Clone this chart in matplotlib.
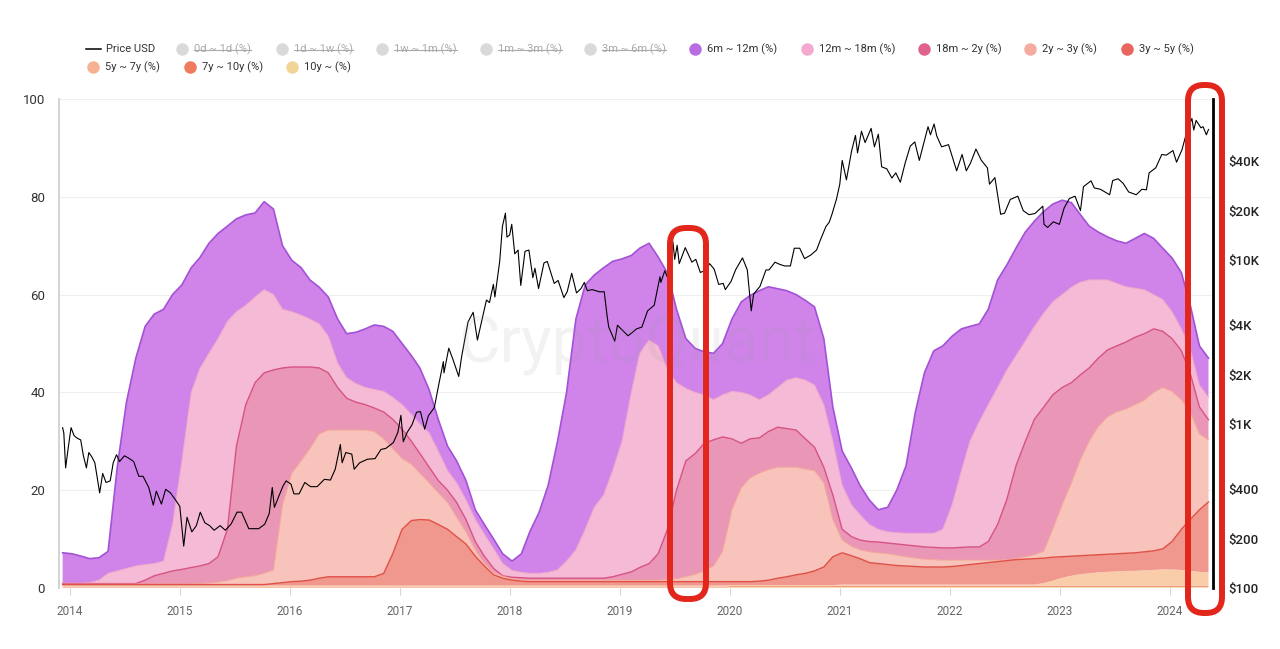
import numpy as np
import pandas as pd
import matplotlib
matplotlib.use("Agg")
import matplotlib.pyplot as plt
import matplotlib.dates as mdates
from matplotlib.lines import Line2D
from matplotlib.patches import FancyBboxPatch
from matplotlib.transforms import IdentityTransform

plt.rcParams['font.family'] = ['Roboto', 'DejaVu Sans']

# ---- age band data: cumulative top of each band (%), one value per month, Dec 2013 .. May 2024
months = pd.date_range('2013-12-01', periods=126, freq='MS') + pd.Timedelta(days=7)

top_6m_12m = [7.2,
    7.0, 6.5, 6.0, 6.2, 7.5, 25, 38, 47, 53.5, 56, 57, 60,
    62, 65.5, 67.5, 70.5, 72.5, 74, 75.5, 76.3, 76.7, 79, 77.5, 70,
    67, 65.5, 63, 61.5, 59.5, 55, 52, 52.3, 53, 53.8, 53.5, 52.5,
    50, 47.5, 45, 40.5, 34.5, 29, 26, 22, 16, 13, 10, 7,
    5.5, 7, 11.5, 15.5, 21, 30, 40, 55, 62, 64, 65.5, 66.8,
    67.3, 68, 69.5, 70.5, 67.7, 64.4, 57, 51, 49, 48.3, 48, 50,
    55, 58.5, 59.8, 60.8, 61.6, 61.2, 60.8, 60, 58.8, 57.5, 51, 37,
    28, 24.5, 21, 18, 16, 16.5, 20, 25, 36, 44, 48.5, 49.5,
    51.5, 53, 53.5, 54, 57, 63, 66, 69.5, 72.8, 75, 77, 78.5,
    79.3, 78.8, 76.5, 74, 72.8, 71.8, 71, 70.5, 71.5, 72.5, 71.5, 69.5,
    67.5, 64.5, 58, 49.5, 47]

top_12m_18m = [1.0,
    1.0, 1.0, 1.1, 1.6, 3.0, 3.5, 4.0, 4.5, 4.8, 5.0, 5.5, 13,
    26, 40, 44.8, 48, 51, 54.5, 56.5, 57.8, 59.5, 61, 60, 57,
    56.5, 55.8, 55, 54, 51.5, 46, 43, 41.8, 41, 40.6, 40.2, 39,
    37.5, 35.5, 33.5, 31.7, 28, 24, 21.5, 18, 14, 11, 8, 5,
    3.6, 3.2, 3.0, 3.0, 3.2, 3.7, 5.5, 7.8, 12, 16.5, 19, 24,
    30, 40, 48, 50.7, 49.5, 44.6, 42, 40.8, 40, 39.5, 38.5, 39.5,
    40.2, 40, 39.5, 38.5, 39.5, 41, 42.5, 43, 42.5, 41.5, 37.5, 30,
    21, 17, 15, 13, 12, 11.5, 11.3, 11.2, 11.2, 11.2, 11.2, 12,
    17, 24, 30, 34, 37.5, 41, 44.5, 47.5, 50.5, 53.5, 56.2, 58.5,
    60, 61.5, 62.5, 63, 63, 63, 62.3, 61.6, 61.3, 61, 60, 59,
    56.5, 53, 49, 41.5, 39]

top_18m_2y = [0.9,
    0.9, 0.9, 0.9, 0.9, 0.9, 0.9, 0.9, 0.9, 1.6, 2.5, 3.0, 3.5,
    3.8, 4.2, 4.5, 5.0, 6.4, 12, 29, 37.5, 42, 44, 44.6, 45,
    45.2, 45.2, 45.2, 45, 44, 41, 38.8, 38, 37.5, 36.8, 36, 34.5,
    32.5, 30, 27.5, 24.7, 22, 20, 17.5, 14, 9.5, 6.5, 4, 2.5,
    2.2, 2.1, 2.0, 2.0, 2.0, 2.0, 2.0, 2.0, 2.0, 2.0, 2.0, 2.3,
    2.8, 3.3, 4.2, 5.0, 7.0, 12, 20, 26, 27.5, 29.6, 30.3, 30.9,
    30.5, 29.6, 30.5, 30.7, 32, 32.9, 32.6, 32.3, 30.5, 28.8, 24.7, 19,
    12, 10.5, 9.8, 9.5, 9.4, 9.2, 9.0, 8.8, 8.6, 8.4, 8.3, 8.2,
    8.2, 8.3, 8.4, 8.4, 9.5, 13, 18, 25, 30, 34.5, 37, 39.5,
    41, 42, 43.5, 45, 47, 48.7, 49.5, 50.3, 51.3, 52, 53, 52.5,
    51, 48.5, 44, 37, 34.4]

top_2y_3y = [0.8,
    0.8, 0.8, 0.8, 0.8, 0.8, 0.8, 0.8, 0.8, 0.8, 0.8, 0.8, 0.8,
    0.8, 0.8, 0.9, 1.0, 1.2, 1.5, 2.0, 2.3, 2.5, 3.0, 3.7, 17,
    23.5, 26, 28.5, 31.5, 32.3, 32.3, 32.3, 32.3, 32.3, 32, 30.5, 28.5,
    26.5, 25.3, 23.5, 21.5, 19.5, 17.5, 14.5, 11.5, 7.8, 5, 3.2, 2.4,
    1.9, 1.7, 1.6, 1.6, 1.6, 1.6, 1.6, 1.6, 1.6, 1.6, 1.6, 1.6,
    1.6, 1.6, 1.6, 1.6, 1.6, 1.7, 1.9, 2.3, 2.8, 3.5, 4.5, 7.5,
    16, 20.5, 22.5, 23.5, 24.2, 24.7, 24.7, 24.7, 24.3, 24, 21.5, 14,
    9.8, 8.5, 7.8, 7.4, 7.2, 7.0, 6.7, 6.4, 6.1, 5.9, 5.8, 5.7,
    5.7, 5.7, 5.7, 5.7, 5.7, 5.7, 5.8, 6.0, 6.4, 6.8, 7.5, 12,
    17, 21.5, 26, 30, 33, 35, 36, 36.6, 37.5, 38.4, 40, 41,
    40.2, 38.5, 36, 31.5, 30.3]

top_3y_5y = [0.7,
    0.7, 0.7, 0.7, 0.7, 0.7, 0.7, 0.7, 0.7, 0.7, 0.7, 0.7, 0.7,
    0.7, 0.7, 0.7, 0.7, 0.7, 0.7, 0.7, 0.7, 0.7, 0.7, 0.9, 1.1,
    1.3, 1.4, 1.6, 2.0, 2.3, 2.3, 2.3, 2.3, 2.3, 2.3, 3.0, 7.0,
    12, 13.8, 14, 13.9, 13, 12, 10.5, 9, 6.5, 4.5, 2.7, 2.0,
    1.6, 1.4, 1.3, 1.3, 1.3, 1.3, 1.3, 1.3, 1.3, 1.3, 1.3, 1.3,
    1.3, 1.3, 1.3, 1.3, 1.3, 1.3, 1.3, 1.3, 1.3, 1.3, 1.3, 1.3,
    1.3, 1.3, 1.3, 1.4, 1.6, 2.0, 2.3, 2.7, 3.0, 3.5, 4.3, 6.4,
    7.2, 6.6, 6.0, 5.2, 5.0, 4.8, 4.6, 4.5, 4.4, 4.3, 4.3, 4.3,
    4.4, 4.6, 4.8, 5.0, 5.2, 5.4, 5.6, 5.8, 5.9, 6.0, 6.1, 6.3,
    6.4, 6.5, 6.6, 6.7, 6.8, 6.9, 7.0, 7.1, 7.2, 7.4, 7.6, 8.0,
    9.5, 12, 14, 16, 17.6]

# thin bottom bands (band thickness, %)
band_5y_7y = [0.2,
    0.2, 0.2, 0.2, 0.2, 0.2, 0.2, 0.2, 0.2, 0.2, 0.2, 0.2, 0.2,
    0.2, 0.2, 0.2, 0.2, 0.2, 0.2, 0.2, 0.2, 0.2, 0.2, 0.2, 0.2,
    0.2, 0.2, 0.2, 0.2, 0.2, 0.2, 0.2, 0.2, 0.2, 0.2, 0.2, 0.2,
    0.2, 0.2, 0.2, 0.2, 0.2, 0.2, 0.2, 0.2, 0.2, 0.2, 0.2, 0.2,
    0.2, 0.2, 0.2, 0.2, 0.2, 0.2, 0.2, 0.2, 0.2, 0.2, 0.2, 0.2,
    0.2, 0.2, 0.2, 0.2, 0.2, 0.2, 0.2, 0.2, 0.2, 0.2, 0.2, 0.2,
    0.2, 0.2, 0.2, 0.2, 0.2, 0.2, 0.2, 0.2, 0.2, 0.2, 0.2, 0.2,
    0.2, 0.2, 0.2, 0.2, 0.2, 0.2, 0.2, 0.2, 0.2, 0.2, 0.2, 0.2,
    0.2, 0.2, 0.2, 0.2, 0.2, 0.2, 0.2, 0.2, 0.2, 0.2, 0.5, 1.0,
    1.6, 2.0, 2.3, 2.5, 2.7, 2.8, 2.9, 3.0, 3.0, 3.1, 3.2, 3.3,
    3.3, 3.2, 3.0, 2.8, 2.7]
band_7y_10y = [0.2,
    0.2, 0.2, 0.2, 0.2, 0.2, 0.2, 0.2, 0.2, 0.2, 0.2, 0.2, 0.2,
    0.2, 0.2, 0.2, 0.2, 0.2, 0.2, 0.2, 0.2, 0.2, 0.2, 0.2, 0.2,
    0.2, 0.2, 0.2, 0.2, 0.2, 0.2, 0.2, 0.2, 0.2, 0.2, 0.2, 0.2,
    0.2, 0.2, 0.2, 0.2, 0.2, 0.2, 0.2, 0.2, 0.2, 0.2, 0.2, 0.2,
    0.2, 0.2, 0.2, 0.2, 0.2, 0.2, 0.2, 0.2, 0.2, 0.2, 0.2, 0.2,
    0.2, 0.2, 0.2, 0.2, 0.2, 0.2, 0.2, 0.2, 0.2, 0.2, 0.2, 0.2,
    0.2, 0.2, 0.2, 0.2, 0.2, 0.2, 0.2, 0.2, 0.2, 0.2, 0.2, 0.2,
    0.3, 0.3, 0.3, 0.3, 0.3, 0.3, 0.3, 0.3, 0.3, 0.3, 0.3, 0.3,
    0.3, 0.3, 0.3, 0.3, 0.3, 0.3, 0.3, 0.3, 0.3, 0.3, 0.3, 0.3,
    0.3, 0.3, 0.3, 0.3, 0.3, 0.3, 0.3, 0.3, 0.3, 0.3, 0.3, 0.3,
    0.3, 0.3, 0.3, 0.3, 0.3]
band_10y = [0.1,
    0.1, 0.1, 0.1, 0.1, 0.1, 0.1, 0.1, 0.1, 0.1, 0.1, 0.1, 0.1,
    0.1, 0.1, 0.1, 0.1, 0.1, 0.1, 0.1, 0.1, 0.1, 0.1, 0.1, 0.1,
    0.1, 0.1, 0.1, 0.1, 0.1, 0.1, 0.1, 0.1, 0.1, 0.1, 0.1, 0.1,
    0.1, 0.1, 0.1, 0.1, 0.1, 0.1, 0.1, 0.1, 0.1, 0.1, 0.1, 0.1,
    0.1, 0.1, 0.1, 0.1, 0.1, 0.1, 0.1, 0.1, 0.1, 0.1, 0.1, 0.1,
    0.1, 0.1, 0.1, 0.1, 0.1, 0.1, 0.1, 0.1, 0.1, 0.1, 0.1, 0.1,
    0.2, 0.2, 0.2, 0.2, 0.2, 0.2, 0.2, 0.2, 0.2, 0.2, 0.2, 0.2,
    0.2, 0.2, 0.2, 0.2, 0.2, 0.2, 0.2, 0.2, 0.2, 0.2, 0.2, 0.2,
    0.2, 0.2, 0.2, 0.2, 0.2, 0.2, 0.2, 0.2, 0.2, 0.2, 0.2, 0.2,
    0.2, 0.2, 0.2, 0.2, 0.2, 0.2, 0.2, 0.2, 0.2, 0.2, 0.2, 0.2,
    0.2, 0.2, 0.2, 0.2, 0.2]

# ---- BTC price (USD)
price_dates = [
    '2013-12-08', '2013-12-12', '2013-12-18', '2013-12-25', '2014-01-05', '2014-01-15', '2014-01-25',
    '2014-02-06', '2014-02-15', '2014-02-25', '2014-03-05', '2014-03-15', '2014-03-25', '2014-04-02',
    '2014-04-10', '2014-04-20', '2014-05-01', '2014-05-15', '2014-05-25', '2014-06-05', '2014-06-15',
    '2014-07-01', '2014-07-15', '2014-08-01', '2014-08-18', '2014-09-01', '2014-09-20', '2014-10-05',
    '2014-10-15', '2014-11-01', '2014-11-15', '2014-12-01', '2014-12-15',
    '2015-01-01', '2015-01-14', '2015-01-25', '2015-02-10', '2015-02-25', '2015-03-10', '2015-03-25',
    '2015-04-10', '2015-04-25', '2015-05-15', '2015-06-01', '2015-06-20', '2015-07-10', '2015-07-25',
    '2015-08-18', '2015-09-01', '2015-09-20', '2015-10-10', '2015-10-25', '2015-11-04', '2015-11-11',
    '2015-11-25', '2015-12-10', '2015-12-20',
    '2016-01-05', '2016-01-15', '2016-02-01', '2016-02-20', '2016-03-10', '2016-04-01', '2016-04-25',
    '2016-05-15', '2016-05-31', '2016-06-17', '2016-06-23', '2016-07-05', '2016-07-25', '2016-08-02',
    '2016-08-20', '2016-09-15', '2016-10-10', '2016-10-30', '2016-11-15', '2016-12-10', '2016-12-25',
    '2017-01-04', '2017-01-12', '2017-01-25', '2017-02-10', '2017-02-25', '2017-03-10', '2017-03-24',
    '2017-04-05', '2017-04-25', '2017-05-10', '2017-05-25', '2017-05-27', '2017-06-12', '2017-06-25',
    '2017-07-15', '2017-07-25', '2017-08-15', '2017-09-01', '2017-09-15', '2017-09-30', '2017-10-15',
    '2017-10-25', '2017-11-07', '2017-11-12', '2017-11-28', '2017-12-07', '2017-12-17', '2017-12-22',
    '2017-12-31',
    '2018-01-07', '2018-01-17', '2018-01-28', '2018-02-06', '2018-02-20', '2018-03-05', '2018-03-18',
    '2018-03-25', '2018-04-06', '2018-04-24', '2018-05-05', '2018-05-28', '2018-06-10', '2018-06-29',
    '2018-07-10', '2018-07-25', '2018-08-10', '2018-08-25', '2018-09-05', '2018-09-15', '2018-10-01',
    '2018-10-25', '2018-11-10', '2018-11-20', '2018-11-25', '2018-12-15', '2018-12-24',
    '2019-01-05', '2019-01-28', '2019-02-10', '2019-02-25', '2019-03-15', '2019-04-03', '2019-04-25',
    '2019-05-14', '2019-05-17', '2019-05-30', '2019-06-10', '2019-06-26', '2019-07-02', '2019-07-10',
    '2019-07-17', '2019-08-06', '2019-08-28', '2019-09-10', '2019-09-25', '2019-10-10', '2019-10-26',
    '2019-11-10', '2019-11-25', '2019-12-10', '2019-12-17',
    '2020-01-05', '2020-01-20', '2020-02-12', '2020-02-28', '2020-03-12', '2020-03-20', '2020-04-10',
    '2020-04-30', '2020-05-10', '2020-05-30', '2020-06-15', '2020-07-01', '2020-07-20', '2020-08-02',
    '2020-08-20', '2020-09-05', '2020-09-25', '2020-10-15', '2020-10-28', '2020-11-15', '2020-11-26',
    '2020-12-05', '2020-12-20', '2020-12-31',
    '2021-01-08', '2021-01-22', '2021-02-08', '2021-02-21', '2021-02-28', '2021-03-13', '2021-03-25',
    '2021-04-14', '2021-04-25', '2021-05-08', '2021-05-19', '2021-06-05', '2021-06-22', '2021-07-05',
    '2021-07-20', '2021-08-05', '2021-08-22', '2021-09-06', '2021-09-21', '2021-10-05', '2021-10-20',
    '2021-10-28', '2021-11-09', '2021-11-18', '2021-12-04', '2021-12-27',
    '2022-01-10', '2022-01-23', '2022-02-10', '2022-02-24', '2022-03-10', '2022-03-28', '2022-04-15',
    '2022-05-05', '2022-05-12', '2022-05-30', '2022-06-18', '2022-07-01', '2022-07-20', '2022-08-14',
    '2022-09-01', '2022-09-20', '2022-10-10', '2022-11-05', '2022-11-09', '2022-11-21', '2022-12-10',
    '2022-12-30',
    '2023-01-15', '2023-02-01', '2023-02-20', '2023-03-10', '2023-03-20', '2023-04-14', '2023-04-25',
    '2023-05-15', '2023-06-15', '2023-06-25', '2023-07-13', '2023-07-30', '2023-08-17', '2023-09-11',
    '2023-09-30', '2023-10-15', '2023-10-24', '2023-11-15', '2023-12-05', '2023-12-20',
    '2024-01-11', '2024-01-23', '2024-02-10', '2024-02-28', '2024-03-14', '2024-03-20', '2024-03-28',
    '2024-04-13', '2024-04-20', '2024-05-01', '2024-05-08']
price_usd = [
    950, 880, 540, 680, 950, 850, 820,
    800, 640, 540, 670, 630, 580, 470,
    380, 500, 440, 450, 580, 650, 590,
    640, 620, 590, 480, 480, 410, 320,
    390, 325, 400, 380, 350,
    315, 180, 270, 220, 240, 290, 250,
    240, 225, 240, 225, 245, 290, 290,
    230, 230, 230, 245, 285, 410, 310,
    360, 420, 450,
    430, 375, 375, 440, 415, 415, 460,
    455, 530, 750, 580, 670, 655, 530,
    580, 610, 615, 700, 710, 770, 890,
    1130, 780, 890, 990, 1180, 1190, 930,
    1120, 1260, 1750, 2400, 2050, 2900, 2500,
    1950, 2600, 4200, 4800, 3250, 4300, 5700,
    5500, 7100, 5950, 9800, 16000, 19300, 13800,
    14200,
    16500, 10900, 11500, 7000, 11300, 11500, 7800,
    8900, 6700, 9600, 9800, 7200, 7500, 5900,
    6400, 8300, 6300, 6700, 7300, 6500, 6600,
    6400, 6400, 4500, 3900, 3200, 4000,
    3800, 3450, 3600, 3800, 3900, 4900, 5300,
    7900, 7300, 8600, 7700, 12900, 10100, 12300,
    9500, 11900, 9700, 10100, 8400, 8600, 9500,
    8800, 7100, 7200, 6600,
    7400, 8700, 10300, 8700, 4900, 6200, 6900,
    8700, 8700, 9700, 9400, 9200, 9200, 11800,
    11800, 10200, 10700, 11500, 13300, 16000, 17000,
    19000, 23500, 29000,
    40500, 30800, 46000, 57500, 45000, 61000, 52000,
    63500, 49000, 58500, 37000, 36000, 31600, 34000,
    29800, 39000, 49500, 52500, 40500, 51000, 65000,
    58000, 67500, 57000, 49000, 50500,
    41800, 35000, 44000, 35000, 39000, 47500, 40500,
    36500, 29000, 31800, 19000, 19300, 23400, 24500,
    20000, 18900, 19200, 21300, 16500, 15800, 17100,
    16500,
    20800, 23700, 24500, 20000, 28000, 30400, 27500,
    27000, 25000, 30500, 31300, 29300, 26000, 25000,
    27000, 26800, 34000, 36500, 44000, 43600,
    46500, 39500, 47000, 62500, 73000, 62000, 71000,
    64000, 65000, 58000, 62500]

price_ticks = [100, 200, 400, 1000, 2000, 4000, 10000, 20000, 40000]
price_tick_labels = ['$100', '$200', '$400', '$1K', '$2K', '$4K', '$10K', '$20K', '$40K']

legend_items = [
    # label, colour, hidden (struck through)
    ('0d ~ 1d (%)', '#d9d9d9', True),
    ('1d ~ 1w (%)', '#d9d9d9', True),
    ('1w ~ 1m (%)', '#d9d9d9', True),
    ('1m ~ 3m (%)', '#d9d9d9', True),
    ('3m ~ 6m (%)', '#d9d9d9', True),
    ('6m ~ 12m (%)', '#b86ce4', False),
    ('12m ~ 18m (%)', '#f3a9d0', False),
    ('18m ~ 2y (%)', '#e0628f', False),
    ('2y ~ 3y (%)', '#f6ab9f', False),
    ('3y ~ 5y (%)', '#e8665e', False),
    ('5y ~ 7y (%)', '#f6b393', False),
    ('7y ~ 10y (%)', '#ef7a5c', False),
    ('10y ~ (%)', '#f1d596', False),
]

# ---- build band thickness from the cumulative tops
t6 = np.array(top_6m_12m)
t12 = np.array(top_12m_18m)
t18 = np.array(top_18m_2y)
t2 = np.array(top_2y_3y)
t3 = np.array(top_3y_5y)
b10 = np.array(band_10y)
b7 = np.array(band_7y_10y)
b5 = np.array(band_5y_7y)
b3 = t3 - (b10 + b7 + b5)
bands = [b10, b7, b5, b3, t2 - t3, t18 - t2, t12 - t18, t6 - t12]
fill_colors = ['#f4deaa', '#f29a80', '#f9cdaa', '#f0988e', '#f8c3ba', '#ea96b6', '#f5bbd6', '#d084ea']

W, H = 1280, 649
fig = plt.figure(figsize=(W / 100, H / 100), dpi=100)
ax = fig.add_axes([59 / W, 1 - 588 / H, (1213 - 59) / W, (588 - 99) / H])

x = months.to_pydatetime()
ax.stackplot(x, *bands, colors=fill_colors, linewidth=0, zorder=2)
ax.plot(x, t6, color='#a352d6', lw=1.2, zorder=3)
ax.plot(x, t12, color='#f0a6c8', lw=0.7, zorder=3)
ax.plot(x, t18, color='#d65384', lw=1.0, zorder=3)
ax.plot(x, t2, color='#f3a797', lw=0.7, zorder=3)
ax.plot(x, t3, color='#df5148', lw=1.0, zorder=3)

ax.set_xlim(pd.Timestamp('2013-11-26'), pd.Timestamp('2024-05-23'))
ax.set_ylim(0, 100)
ax.set_yticks([0, 20, 40, 60, 80, 100])
ax.yaxis.grid(True, color='#efefef', lw=0.8)
ax.set_axisbelow(True)
ax.tick_params(axis='y', length=0, pad=10, labelsize=9.5, labelcolor='#333333')
ax.xaxis.set_major_locator(mdates.YearLocator())
ax.xaxis.set_major_formatter(mdates.DateFormatter('%Y'))
ax.tick_params(axis='x', length=5, color='#d5d5d5', pad=7, labelsize=8.5, labelcolor='#666666')
for s in ['top', 'right', 'bottom']:
    ax.spines[s].set_visible(False)
ax.spines['left'].set_color('#d0d0d0')
ax.spines['left'].set_linewidth(1.3)

# price on a log axis
ax2 = ax.twinx()
ax2.plot(pd.to_datetime(price_dates), price_usd, color='black', lw=0.8, zorder=5)
ax2.set_yscale('log')
ax2.set_ylim(100, 95900)
ax2.set_yticks(price_ticks)
ax2.set_yticklabels(price_tick_labels)
ax2.yaxis.set_minor_locator(plt.NullLocator())
ax2.tick_params(axis='y', length=0, pad=11, labelsize=9.5, labelcolor='#222222')
for lab in ax2.get_yticklabels():
    lab.set_fontweight('medium')
for s in ['top', 'left', 'bottom']:
    ax2.spines[s].set_visible(False)
ax2.spines['right'].set_color('black')
ax2.spines['right'].set_linewidth(2)

# watermark
fig.text(637 / W, 1 - 345 / H, 'CryptoQuant', fontsize=46, color='#9a9a9a', alpha=0.12,
         ha='center', va='center', zorder=10)

# ---- legend (drawn by hand to get strike-through entries)
ident = IdentityTransform()
row1, row2 = H - 49, H - 67
fig.add_artist(Line2D([86, 101], [row1, row1], color='black', lw=1.1, transform=ident))
fig.text(106 / W, row1 / H, 'Price USD', fontsize=8, color='#333333', va='center')
marker_x = [182, 282, 382, 486, 590, 695, 807, 924, 1030, 1127, 93, 190, 292]
texts = []
for i, (label, col, hidden) in enumerate(legend_items):
    yy = row1 if i < 10 else row2
    mx = marker_x[i]
    fig.add_artist(Line2D([mx], [yy], marker='o', ms=9, mew=0, color=col, transform=ident))
    t = fig.text((mx + 12) / W, yy / H, label, fontsize=8,
                 color='#aaaaaa' if hidden else '#333333', va='center')
    texts.append((t, hidden))

fig.canvas.draw()
for t, hidden in texts:
    if hidden:
        bb = t.get_window_extent()
        yc = bb.y0 + bb.height * 0.45
        fig.add_artist(Line2D([bb.x0, bb.x1], [yc, yc], color='#aaaaaa', lw=0.8, transform=ident))

# ---- red highlight boxes
for (l, r, top, bot) in [(670, 706, 228, 599), (1188, 1222, 85, 613)]:
    box = FancyBboxPatch((l, H - bot), r - l, bot - top,
                         boxstyle='round,pad=0,rounding_size=16',
                         transform=ident, fill=False, ec='#e3261b', lw=4.3, zorder=20)
    fig.add_artist(box)

fig.savefig('out.png', dpi=100)
